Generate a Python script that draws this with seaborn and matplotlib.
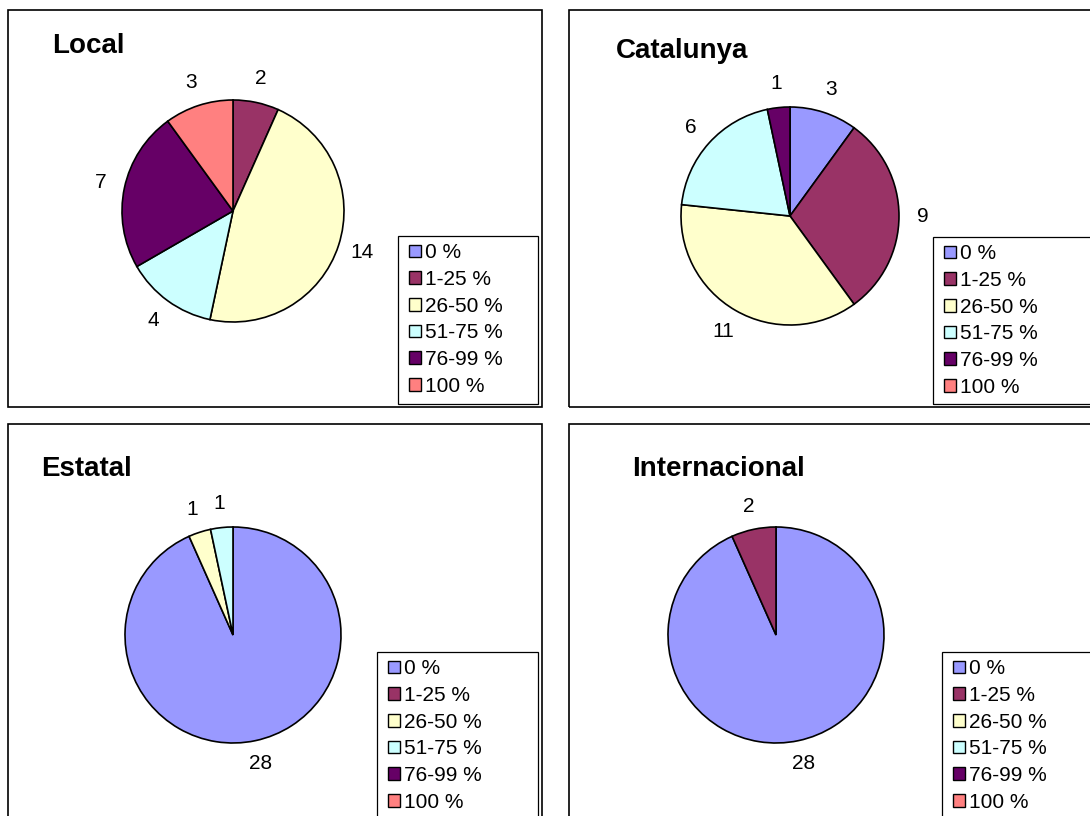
import matplotlib
matplotlib.use('Agg')
import matplotlib.pyplot as plt
import seaborn as sns
from matplotlib.patches import Patch, Rectangle

sns.set_style('white')
plt.rcParams['font.family'] = ['Liberation Sans', 'DejaVu Sans']
plt.rcParams['text.color'] = 'black'

# 데이터
categories = ['0 %', '1-25 %', '26-50 %', '51-75 %', '76-99 %', '100 %']
colors = ['#9999FF', '#993366', '#FFFFCC', '#CCFFFF', '#660066', '#FF8080']

titles = ['Local', 'Catalunya', 'Estatal', 'Internacional']
local = [0, 2, 14, 4, 7, 3]
catalunya = [3, 9, 11, 6, 1, 0]
estatal = [28, 0, 1, 1, 0, 0]
internacional = [28, 2, 0, 0, 0, 0]
series = [local, catalunya, estatal, internacional]

W, H = 1090, 816

# 레이아웃 (픽셀 단위): 패널 박스, 파이 중심/반지름, 제목 위치, 범례 박스
layout = [
    dict(box=(8, 10, 542, 407), pie=(233, 211, 111), title=(52, 53), leg=(398, 236, 538, 404)),
    dict(box=(569, 10, 1100, 407), pie=(790, 216, 109), title=(616, 58), leg=(933, 237, 1100, 404)),
    dict(box=(8, 424, 542, 830), pie=(233, 635, 108), title=(41, 476), leg=(377, 652, 538, 830)),
    dict(box=(569, 424, 1100, 830), pie=(776, 635, 108), title=(632, 476), leg=(942, 652, 1100, 830)),
]


def fig_rect(x0, y0, x1, y1):
    return (x0 / W, 1 - y1 / H), (x1 - x0) / W, (y1 - y0) / H


fig = plt.figure(figsize=(W / 100, H / 100), dpi=100)

handles = [Patch(facecolor=c, edgecolor='black', linewidth=1) for c in colors]

for name, vals, lay in zip(titles, series, layout):
    # 패널 테두리
    xy, w, h = fig_rect(*lay['box'])
    fig.patches.append(Rectangle(xy, w, h, transform=fig.transFigure, fill=False,
                                 edgecolor='black', linewidth=1.2))
    # 범례 테두리
    xy, w, h = fig_rect(*lay['leg'])
    fig.patches.append(Rectangle(xy, w, h, transform=fig.transFigure, fill=False,
                                 edgecolor='black', linewidth=0.9))

    cx, cy, r = lay['pie']
    side = 2.5 * r
    ax = fig.add_axes([(cx - side / 2) / W, 1 - (cy + side / 2) / H, side / W, side / H])

    # 0인 항목 제외
    v = [x for x in vals if x > 0]
    c = [col for x, col in zip(vals, colors) if x > 0]
    labs = [str(x) for x in v]
    wedges, texts = ax.pie(v, colors=c, labels=labs, startangle=90, counterclock=False,
                           labeldistance=1.22,
                           wedgeprops={'edgecolor': 'black', 'linewidth': 1.2},
                           textprops={'fontsize': 15, 'color': 'black'})
    for t in texts:
        t.set_ha('center')
        t.set_va('center')
    ax.set_xlim(-1.25, 1.25)
    ax.set_ylim(-1.25, 1.25)
    ax.set_aspect('equal')
    ax.axis('off')

    tx, ty = lay['title']
    fig.text(tx / W, 1 - ty / H, name, fontsize=20, fontweight='bold', color='black',
             va='baseline', ha='left')

    lx0, ly0 = lay['leg'][0], lay['leg'][1]
    leg = fig.legend(handles, categories, loc='upper left',
                     bbox_to_anchor=((lx0 + 5) / W, 1 - (ly0 + 1) / H),
                     frameon=False, fontsize=15, handlelength=0.55, handleheight=0.55,
                     handletextpad=0.2, labelspacing=0.37, borderpad=0.3, borderaxespad=0)
    for t in leg.get_texts():
        t.set_color('black')

plt.savefig('out.png', dpi=100)
plt.close()
